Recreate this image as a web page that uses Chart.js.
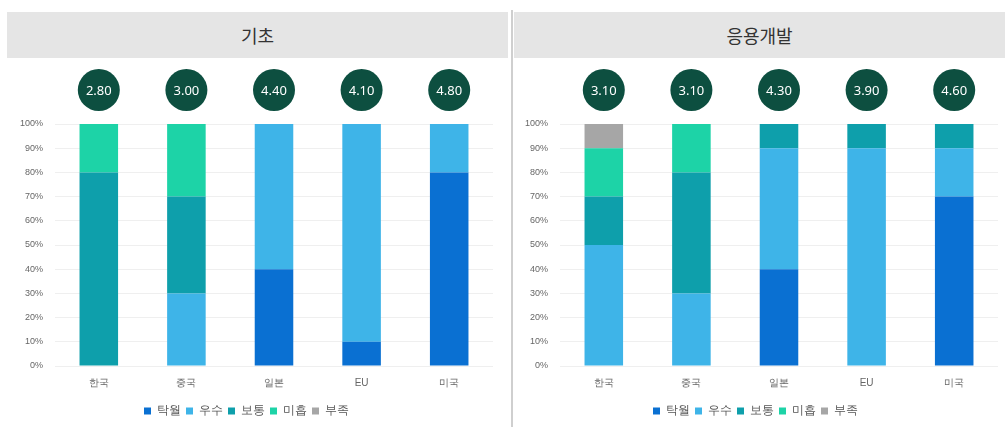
<!DOCTYPE html>
<html lang="ko">
<head>
<meta charset="utf-8">
<script src="https://cdn.jsdelivr.net/npm/chart.js@4.4.1/dist/chart.umd.min.js"></script>
<style>
  body { margin: 0; width: 1005px; height: 427px; background: #fff; position: relative; overflow: hidden;
         font-family: "Noto Sans CJK KR", "Noto Sans", sans-serif; }
  .head { position: absolute; top: 12px; height: 46px; background: #e5e5e5; color: #333;
          font-size: 18px; line-height: 46px; text-align: center; }
  .divider { position: absolute; left: 511px; top: 10px; width: 2px; height: 417px; background: #cfcfcf; }
  canvas { position: absolute; top: 60px; }
</style>
</head>
<body>
<div class="head" style="left:7px; width:501px;">기초</div>
<div class="divider"></div>
<div class="head" style="left:514px; width:491px;">응용개발</div>
<canvas id="basicChart" style="left:0px;" width="510" height="367"></canvas>
<canvas id="appliedChart" style="left:513px;" width="492" height="367"></canvas>
<script>
const countries = ['한국', '중국', '일본', 'EU', '미국'];
const levels = ['탁월', '우수', '보통', '미흡', '부족'];
const levelColors = ['#0a70d2', '#3eb4e8', '#0e9fab', '#1dd3a7', '#a6a6a6'];

// average score per country
const basicScores = [2.80, 3.00, 4.40, 4.10, 4.80];
const appliedScores = [3.10, 3.10, 4.30, 3.90, 4.60];

// share (%) of each rating, 기초
const basicExcellent = [0, 0, 40, 10, 80];
const basicGood = [0, 30, 60, 90, 20];
const basicFair = [80, 40, 0, 0, 0];
const basicPoor = [20, 30, 0, 0, 0];
const basicWeak = [0, 0, 0, 0, 0];

// share (%) of each rating, 응용개발
const appliedExcellent = [0, 0, 40, 0, 70];
const appliedGood = [50, 30, 50, 90, 20];
const appliedFair = [20, 50, 10, 10, 10];
const appliedPoor = [20, 20, 0, 0, 0];
const appliedWeak = [10, 0, 0, 0, 0];

const yTicks = [0, 10, 20, 30, 40, 50, 60, 70, 80, 90, 100];

// dark circle with the score above each bar
const scoreBadges = {
    id: 'scoreBadges',
    afterDraw(chart, args, opts) {
        const ctx = chart.ctx;
        const x = chart.scales.x;
        const cy = chart.chartArea.top - 34;
        ctx.save();
        opts.scores.forEach((s, i) => {
            const cx = x.getPixelForValue(i);
            ctx.beginPath();
            ctx.arc(cx, cy, 21, 0, Math.PI * 2);
            ctx.fillStyle = '#0d4f40';
            ctx.fill();
            ctx.fillStyle = '#ffffff';
            ctx.font = '13px "Noto Sans", sans-serif';
            ctx.textAlign = 'center';
            ctx.textBaseline = 'middle';
            ctx.fillText(s.toFixed(2), cx, cy + 1);
        });
        ctx.restore();
    }
};

function makeChart(id, seriesList, scores, yWidth, padRight) {
    const datasets = levels.map((lv, i) => ({
        label: lv,
        data: seriesList[i],
        backgroundColor: levelColors[i],
        borderWidth: 0,
        categoryPercentage: 1.0,
        barPercentage: 0.44
    }));
    return new Chart(document.getElementById(id), {
        type: 'bar',
        data: { labels: countries, datasets: datasets },
        plugins: [scoreBadges],
        options: {
            responsive: false,
            animation: false,
            layout: { padding: { top: 64, right: padRight, bottom: 0, left: 0 } },
            scales: {
                x: {
                    stacked: true,
                    grid: { display: false, drawTicks: false },
                    border: { display: false },
                    ticks: { color: '#666', font: { size: 10 }, padding: 11 }
                },
                y: {
                    stacked: true,
                    min: 0,
                    max: 100,
                    afterFit(scale) { scale.width = yWidth; },
                    afterBuildTicks(scale) { scale.ticks = yTicks.map(v => ({ value: v })); },
                    grid: { color: '#efefef', drawTicks: false },
                    border: { display: false },
                    ticks: { color: '#666', font: { size: 9 }, padding: 12, callback: v => v + '%' }
                }
            },
            plugins: {
                scoreBadges: { scores: scores },
                tooltip: { enabled: false },
                legend: {
                    position: 'bottom',
                    labels: {
                        usePointStyle: true,
                        pointStyle: 'rect',
                        boxWidth: 7,
                        boxHeight: 7,
                        padding: 5,
                        color: '#555',
                        font: { size: 12 }
                    }
                }
            }
        }
    });
}

makeChart('basicChart',
    [basicExcellent, basicGood, basicFair, basicPoor, basicWeak],
    basicScores, 55, 17);
makeChart('appliedChart',
    [appliedExcellent, appliedGood, appliedFair, appliedPoor, appliedWeak],
    appliedScores, 47, 7);
</script>
</body>
</html>
